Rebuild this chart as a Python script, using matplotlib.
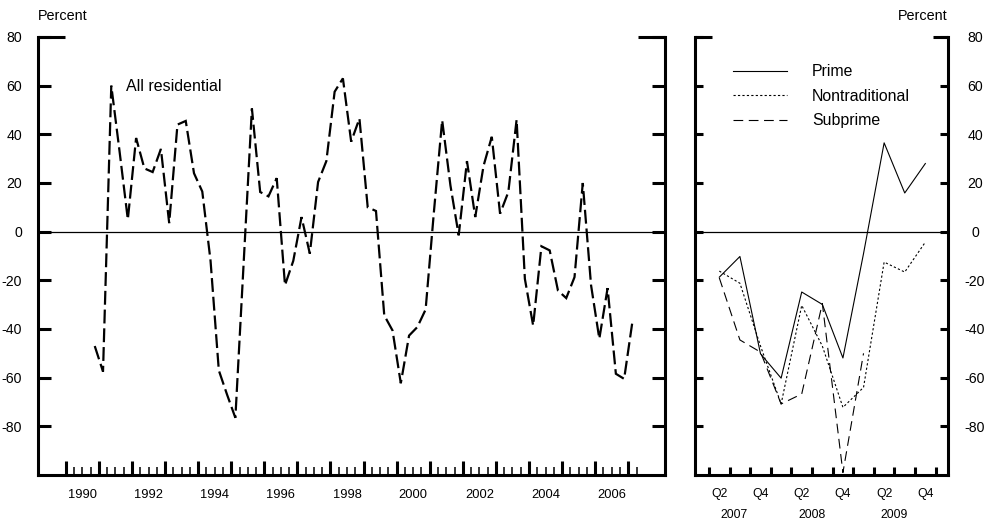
import matplotlib
matplotlib.use('Agg')
import matplotlib.pyplot as plt
import pandas as pd
from matplotlib.transforms import blended_transform_factory

plt.rcParams['font.family'] = ['Liberation Sans', 'DejaVu Sans']
plt.rcParams['axes.unicode_minus'] = False
plt.rcParams['lines.scale_dashes'] = False

# ---------------- data ----------------
all_res_quarters = pd.period_range('1990Q4', '2007Q1', freq='Q')
all_residential = [
    -47, -57.5, 60, 33, 5, 38.5, 26, 24.5, 34, 3.5, 44, 45.5, 24, 16.5,
    -12, -57, -67, -76.5, -13, 50.6, 16.3, 14.5, 22, -22, -12, 6, -9, 20.4,
    29, 57.5, 63, 37, 46.5, 10, 8.5, -34.4, -40.6, -62.3, -42.7, -39.2, -32,
    8, 45.8, 19, -1.5, 29, 6, 27, 39, 7.4, 16.3, 46, -19.4, -38.6, -6, -7.7,
    -24.2, -27.3, -18.7, 20, -22, -44, -23.2, -58.4, -60.5, -37,
]

recent_quarters = pd.period_range('2007Q2', '2009Q4', freq='Q')
prime = [-18.7, -10.2, -50.2, -60.2, -24.8, -29.9, -51.9, -9, 36.5, 15.9, 28]
nontraditional = [-16.2, -21.2, -47, -70.8, -30.3, -47, -72.2, -64, -12.5, -16.6, -4.3]
subprime = [-19, -44.5, -49.5, -70.8, -66.7, -29.5, -99, -50]

y_ticks = [-80, -60, -40, -20, 0, 20, 40, 60, 80]
left_year_labels = ['1990', '1992', '1994', '1996', '1998', '2000', '2002', '2004', '2006']
right_q_labels = ['Q2', 'Q4', 'Q2', 'Q4', 'Q2', 'Q4']
right_year_labels = ['2007', '2008', '2009']
series_names = ['Prime', 'Nontraditional', 'Subprime']


def to_mid(periods):
    return [p.year + (p.quarter - 1) / 4 + 0.125 for p in periods]


x_left = to_mid(all_res_quarters)
x_right = to_mid(recent_quarters)

fig = plt.figure(figsize=(9.93, 5.25), dpi=100)
fig.patch.set_facecolor('white')

axL = fig.add_axes([38 / 993, 50 / 525, 627 / 993, 438 / 525])
axR = fig.add_axes([695 / 993, 50 / 525, 253 / 993, 438 / 525])

SPW = 2.2
for ax in (axL, axR):
    ax.set_ylim(-100, 80)
    ax.spines['top'].set_visible(False)
    for s in ('left', 'right', 'bottom'):
        ax.spines[s].set_linewidth(SPW)
    ax.axhline(0, color='black', lw=0.9, zorder=1)
    ax.set_yticks(y_ticks)

# ---------------- left panel ----------------
axL.set_xlim(1989.16, 2008.11)
axL.plot(x_left, all_residential, color='black', lw=1.6,
         dashes=(10, 3.5), solid_joinstyle='miter', dash_joinstyle='miter')
axL.text(1991.82, 59.8, 'All residential', fontsize=11.5, va='center', ha='left')

year_ticks = list(range(1990, 2008))
quarter_ticks = [y + q / 4 for y in range(1990, 2008) for q in (1, 2, 3) if y + q / 4 <= 2007.25]
axL.set_xticks(year_ticks)
axL.set_xticks(quarter_ticks, minor=True)
axL.tick_params(axis='x', which='major', direction='in', length=10, width=SPW,
                labelbottom=False)
axL.tick_params(axis='x', which='minor', direction='in', length=5.5, width=1.1,
                labelbottom=False)
axL.tick_params(axis='y', which='major', direction='in', length=9.5, width=SPW,
                left=True, right=True, labelleft=True, labelright=False,
                labelsize=10.2, pad=11.7)

secL = axL.secondary_xaxis('bottom')
secL.set_xticks([int(y) + 0.5 for y in left_year_labels], left_year_labels)
secL.tick_params(length=0, labelsize=9.3, pad=10)
secL.spines['bottom'].set_visible(False)

trL = blended_transform_factory(axL.transAxes, axL.transData)
axL.plot([0, 27 / 627], [80, 80], transform=trL, color='black', lw=SPW,
         solid_capstyle='butt', clip_on=False)
axL.plot([1 - 27 / 627, 1], [80, 80], transform=trL, color='black', lw=SPW,
         solid_capstyle='butt', clip_on=False)

fig.text(38 / 993, 1 - 16 / 525, 'Percent', fontsize=10.4, ha='left', va='center')

# ---------------- right panel ----------------
axR.set_xlim(2007.08, 2010.15)
l1, = axR.plot(x_right, prime, color='black', lw=0.8)
l2, = axR.plot(x_right, nontraditional, color='black', lw=0.8, dashes=(1.6, 1.6))
l3, = axR.plot(x_right[:len(subprime)], subprime, color='black', lw=0.8, dashes=(7, 4))

qb = [2007.25 + i / 4 for i in range(12)]
axR.set_xticks(qb)
axR.tick_params(axis='x', which='major', direction='in', length=6, width=SPW,
                labelbottom=False)
axR.tick_params(axis='y', which='major', direction='in', length=6, width=SPW,
                left=True, right=True, labelleft=False, labelright=True,
                labelsize=10.2, pad=19.4)
for lab in axR.get_yticklabels():
    lab.set_horizontalalignment('center')

q_pos = [2007.375, 2007.875, 2008.375, 2008.875, 2009.375, 2009.875]
secR = axR.secondary_xaxis('bottom')
secR.set_xticks(q_pos, right_q_labels)
secR.tick_params(length=0, labelsize=8.8, pad=9)
secR.spines['bottom'].set_visible(False)

secR2 = axR.secondary_xaxis('bottom')
secR2.set_xticks([2007.55, 2008.5, 2009.5], right_year_labels)
secR2.tick_params(length=0, labelsize=8.8, pad=24.5)
secR2.spines['bottom'].set_visible(False)

trR = blended_transform_factory(axR.transAxes, axR.transData)
axR.plot([0, 17 / 253], [80, 80], transform=trR, color='black', lw=SPW,
         solid_capstyle='butt', clip_on=False)
axR.plot([1 - 15 / 253, 1], [80, 80], transform=trR, color='black', lw=SPW,
         solid_capstyle='butt', clip_on=False)

fig.text(948 / 993, 1 - 16 / 525, 'Percent', fontsize=10.4, ha='right', va='center')

leg = axR.legend([l1, l2, l3], series_names, loc='upper left',
                 bbox_to_anchor=(733 / 993, 1 - 64.5 / 525),
                 bbox_transform=fig.transFigure, frameon=False, fontsize=11.4,
                 handlelength=3.4, handletextpad=1.58, labelspacing=0.59,
                 borderpad=0, borderaxespad=0)

fig.savefig('out.png', dpi=100, facecolor='white')
